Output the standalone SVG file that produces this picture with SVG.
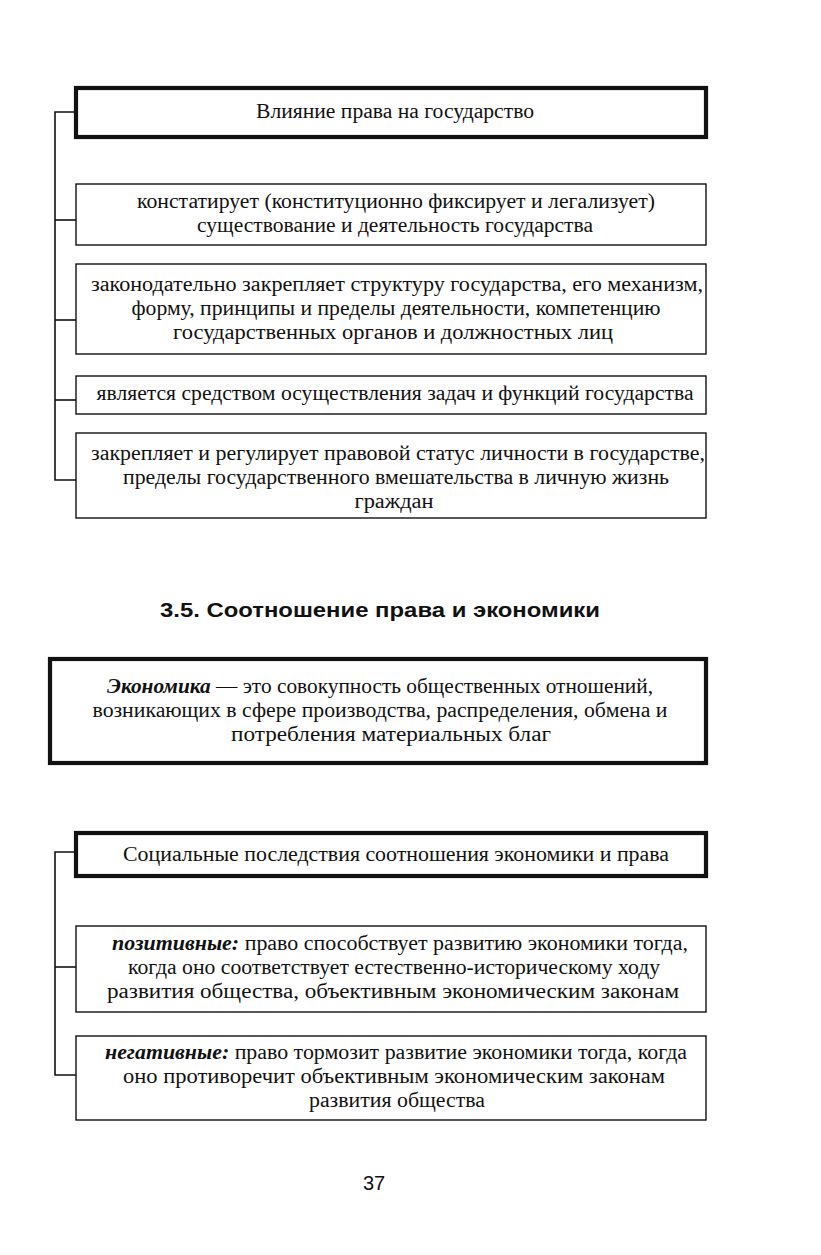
<svg xmlns="http://www.w3.org/2000/svg" width="821" height="1255" viewBox="0 0 821 1255">
<style>
.bg{fill:#ffffff}
.box{fill:#ffffff;stroke:#111;stroke-width:1.4}
.tbox{fill:#ffffff;stroke:#111;stroke-width:4.2}
.t{font-family:"Liberation Serif","Times New Roman",serif;font-size:20px;fill:#111;text-anchor:middle}
.bi{font-weight:bold;font-style:italic}
.h{font-family:"Liberation Sans",Arial,sans-serif;font-size:21px;font-weight:bold;fill:#111}
.pn{font-family:"Liberation Sans",Arial,sans-serif;font-size:20px;fill:#111;text-anchor:middle}
.ln{fill:none;stroke:#111;stroke-width:1.6}
</style>
<rect class="bg" x="0" y="0" width="821" height="1255"/>

<g id="connectors">
  <path class="ln" d="M76,112 H55 V480 H76"/>
  <path class="ln" d="M55,220 H76"/>
  <path class="ln" d="M55,320 H76"/>
  <path class="ln" d="M55,400 H76"/>
  <path class="ln" d="M76,852 H55 V1075 H76"/>
  <path class="ln" d="M55,967 H76"/>
</g>

<g id="node-influence">
  <rect class="tbox" x="76" y="88" width="630" height="49"/>
  <text class="t" x="395" y="118" textLength="278" lengthAdjust="spacingAndGlyphs">Влияние права на государство</text>
</g>

<g id="node-constates">
  <rect class="box" x="76" y="184" width="630" height="61"/>
  <text class="t" x="396" y="208" textLength="518" lengthAdjust="spacingAndGlyphs">констатирует (конституционно фиксирует и легализует)</text>
  <text class="t" x="395" y="232" textLength="396" lengthAdjust="spacingAndGlyphs">существование и деятельность государства</text>
</g>

<g id="node-structure">
  <rect class="box" x="76" y="264" width="630" height="90"/>
  <text class="t" x="397" y="291" textLength="612" lengthAdjust="spacingAndGlyphs">законодательно закрепляет структуру государства, его механизм,</text>
  <text class="t" x="396" y="315" textLength="529" lengthAdjust="spacingAndGlyphs">форму, принципы и пределы деятельности, компетенцию</text>
  <text class="t" x="393" y="339" textLength="440" lengthAdjust="spacingAndGlyphs">государственных органов и должностных лиц</text>
</g>

<g id="node-means">
  <rect class="box" x="76" y="376" width="630" height="38"/>
  <text class="t" x="395" y="400" textLength="597" lengthAdjust="spacingAndGlyphs">является средством осуществления задач и функций государства</text>
</g>

<g id="node-status">
  <rect class="box" x="76" y="433" width="630" height="85"/>
  <text class="t" x="398" y="460" textLength="614" lengthAdjust="spacingAndGlyphs">закрепляет и регулирует правовой статус личности в государстве,</text>
  <text class="t" x="396" y="484" textLength="546" lengthAdjust="spacingAndGlyphs">пределы государственного вмешательства в личную жизнь</text>
  <text class="t" x="394" y="508" textLength="79" lengthAdjust="spacingAndGlyphs">граждан</text>
</g>

<text class="h" x="160" y="617" textLength="440" lengthAdjust="spacingAndGlyphs">3.5. Соотношение права и экономики</text>

<g id="node-economy">
  <rect class="tbox" x="50" y="659" width="656" height="104"/>
  <text class="t" x="380" y="693" textLength="546" lengthAdjust="spacingAndGlyphs"><tspan class="bi">Экономика</tspan> — это совокупность общественных отношений,</text>
  <text class="t" x="380" y="717" textLength="575" lengthAdjust="spacingAndGlyphs">возникающих в сфере производства, распределения, обмена и</text>
  <text class="t" x="391" y="741" textLength="320" lengthAdjust="spacingAndGlyphs">потребления материальных благ</text>
</g>

<g id="node-social">
  <rect class="tbox" x="76" y="833" width="630" height="43"/>
  <text class="t" x="396" y="861" textLength="546" lengthAdjust="spacingAndGlyphs">Социальные последствия соотношения экономики и права</text>
</g>

<g id="node-positive">
  <rect class="box" x="76" y="926" width="630" height="86"/>
  <text class="t" x="400" y="950" textLength="576" lengthAdjust="spacingAndGlyphs"><tspan class="bi">позитивные:</tspan> право способствует развитию экономики тогда,</text>
  <text class="t" x="394" y="974" textLength="532" lengthAdjust="spacingAndGlyphs">когда оно соответствует естественно-историческому ходу</text>
  <text class="t" x="393" y="998" textLength="572" lengthAdjust="spacingAndGlyphs">развития общества, объективным экономическим законам</text>
</g>

<g id="node-negative">
  <rect class="box" x="76" y="1036" width="630" height="84"/>
  <text class="t" x="396" y="1059" textLength="582" lengthAdjust="spacingAndGlyphs"><tspan class="bi">негативные:</tspan> право тормозит развитие экономики тогда, когда</text>
  <text class="t" x="394" y="1083" textLength="542" lengthAdjust="spacingAndGlyphs">оно противоречит объективным экономическим законам</text>
  <text class="t" x="397" y="1107" textLength="176" lengthAdjust="spacingAndGlyphs">развития общества</text>
</g>

<text class="pn" x="374" y="1190">37</text>
</svg>
